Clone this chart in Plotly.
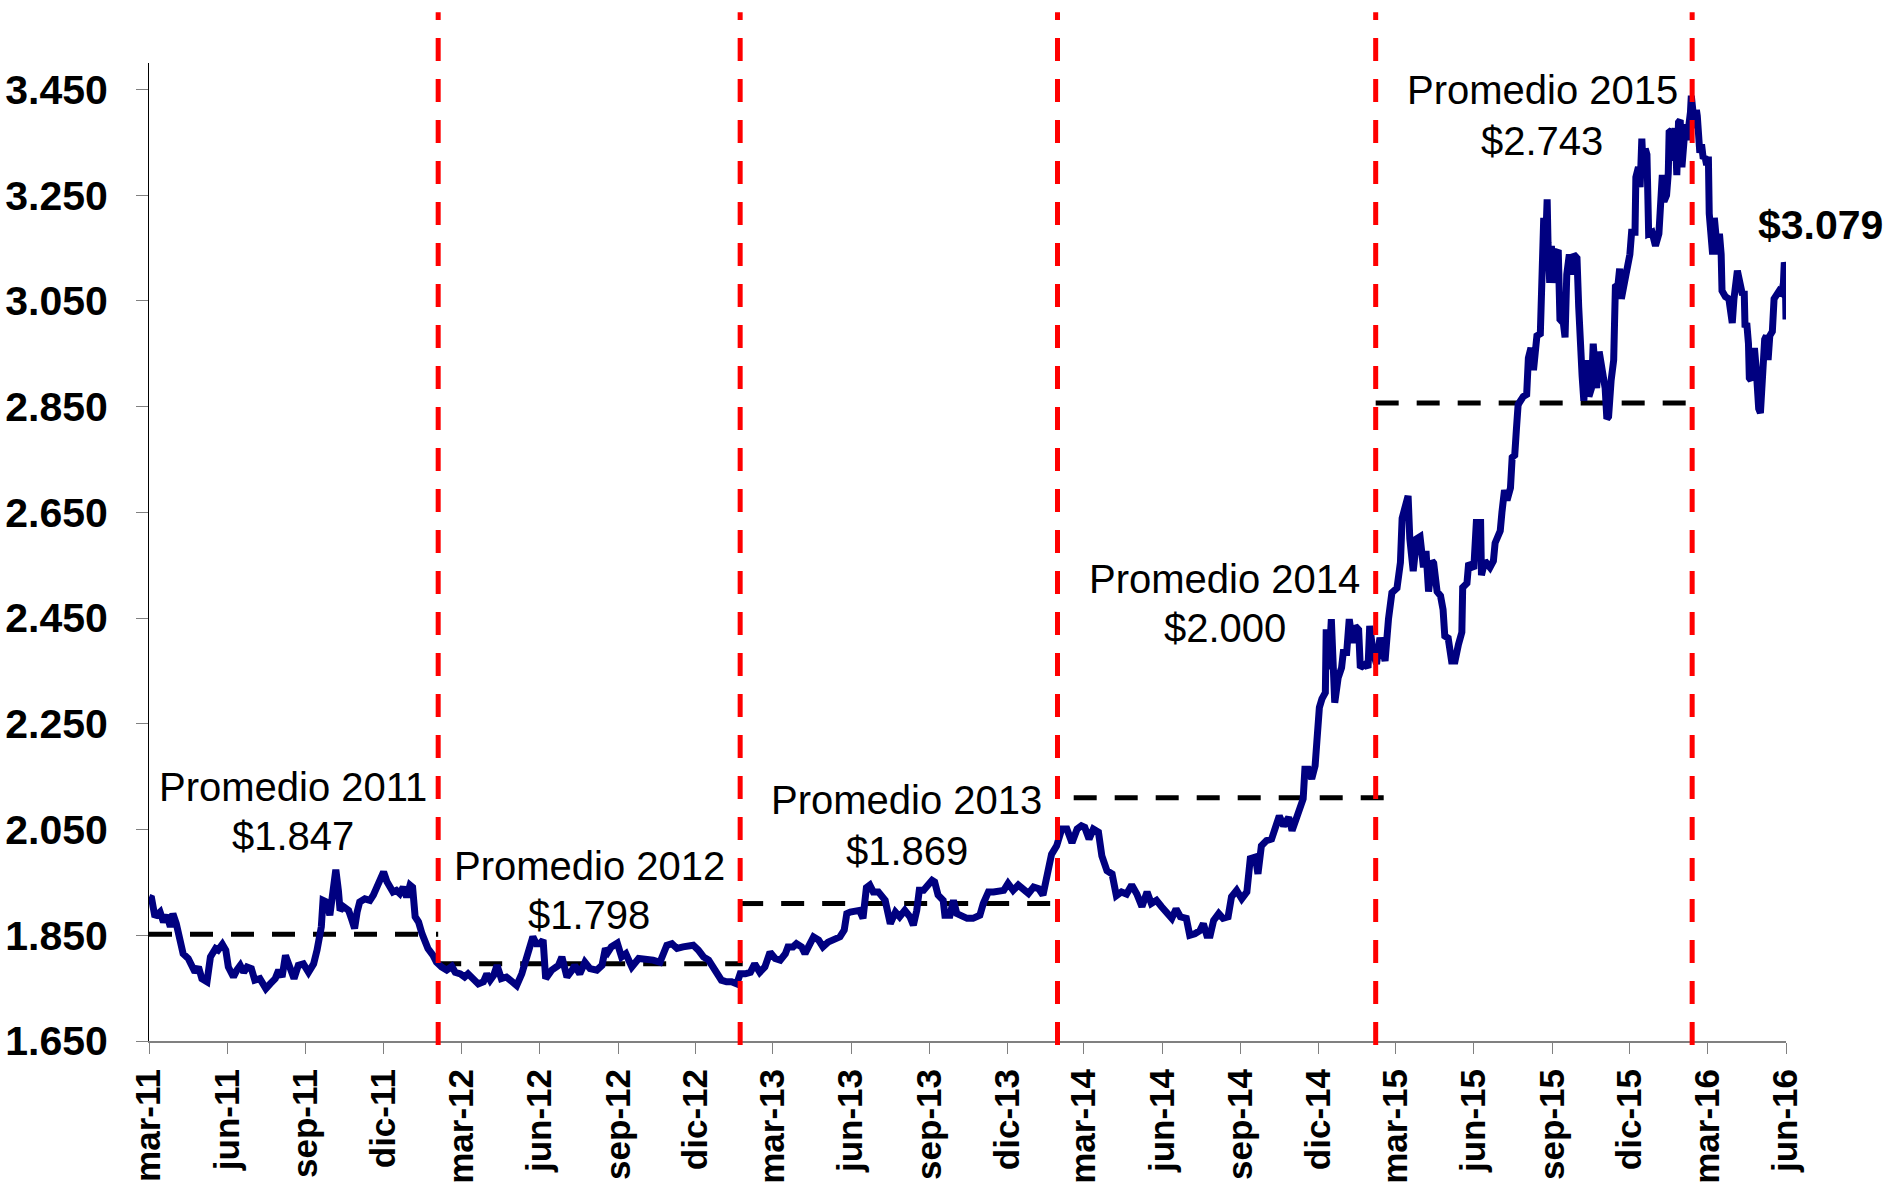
import pandas as pd
import plotly.graph_objects as go

FUENTE = "Liberation Sans, Arial, sans-serif"
AZUL = "#000080"
ROJO = "#FF0000"
GRIS = "#808080"

inicio = "2011-03-01"
fin = "2016-06-01"

# tasa de cambio diaria: dias contados desde el inicio y valor observado
dias = [
    0, 3, 7, 13, 17, 21, 25, 28, 32, 36, 40, 46, 50, 54, 58, 62, 68, 72, 78, 81,
    86, 90, 93, 99, 103, 107, 111, 115, 120, 124, 130, 137, 142, 148, 152, 156, 160, 164, 170, 175,
    181, 187, 193, 197, 202, 204, 208, 212, 215, 219, 222, 224, 228, 234, 238, 241, 244, 247, 253, 259,
    263, 268, 271, 275, 279, 283, 286, 290, 294, 298, 302, 306, 309, 312, 316, 320, 324, 327, 333, 337,
    343, 349, 355, 359, 365, 370, 374, 380, 386, 392, 396, 400, 404, 408, 413, 419, 425, 431, 437, 443,
    450, 454, 458, 462, 465, 472, 480,
    484, 490, 496, 499, 505, 511, 517, 525, 531, 535, 538, 542, 549, 554, 559, 566, 574, 583, 591, 599,
    607, 613, 619, 626, 634, 638, 644, 650, 656, 662, 666, 671, 677, 683, 689, 693, 699, 705, 710, 716,
    722, 728, 734, 740, 746, 749, 755, 759, 765, 769, 773, 779, 785, 790, 796, 804, 810, 815, 818, 822,
    828, 833, 837, 841, 845, 849, 855, 859, 863, 869, 875, 880, 886, 892, 896, 900, 903, 908, 912, 918,
    921, 925, 931, 933, 939, 943, 947, 953, 959, 966, 974, 978, 984, 990, 996, 1002, 1007, 1013, 1019, 1025,
    1031, 1037, 1043, 1048,
    1052, 1058, 1064, 1070, 1076, 1082, 1088, 1093, 1097, 1102, 1107, 1113, 1117, 1123, 1129, 1134, 1140, 1146, 1152, 1158,
    1164, 1170, 1175, 1181, 1187, 1193, 1199, 1204, 1209, 1216, 1220, 1226, 1232, 1236, 1240, 1244, 1248, 1254, 1259, 1265,
    1269, 1275, 1281, 1287, 1291, 1297, 1300, 1304, 1310, 1316, 1320, 1325, 1330, 1336, 1340, 1343, 1349, 1353, 1355, 1359,
    1363, 1367, 1369, 1372, 1375, 1379, 1380, 1383, 1386, 1390, 1394, 1398, 1400, 1404, 1407, 1411, 1414, 1418, 1420, 1426,
    1429, 1431, 1435, 1439, 1443, 1449, 1453, 1457, 1463, 1467,
    1469, 1472, 1476, 1478, 1482, 1486, 1490, 1494, 1497, 1500, 1504, 1506, 1510, 1514, 1517, 1519, 1523, 1527, 1531, 1535,
    1539, 1540, 1545, 1547, 1553, 1556, 1561, 1562, 1566, 1572, 1576, 1578, 1584, 1586, 1589, 1592, 1596, 1598, 1601, 1603,
    1605, 1611, 1615, 1617, 1620, 1623, 1625, 1627, 1631, 1633, 1635, 1637, 1639, 1640, 1642, 1644, 1646, 1648, 1652, 1654,
    1658, 1660, 1662, 1665, 1668, 1670, 1674, 1676, 1678, 1680, 1682, 1685, 1688, 1691, 1693, 1697, 1700, 1704, 1707, 1709,
    1711, 1714, 1717, 1719, 1722, 1724, 1726, 1730, 1732, 1736, 1738, 1742, 1743, 1746, 1748, 1750, 1752, 1754, 1756, 1758,
    1762, 1766, 1770, 1772, 1774, 1776, 1779, 1781, 1782, 1785, 1787, 1789, 1791, 1793, 1795, 1797, 1799, 1801, 1803, 1805,
    1807, 1808, 1810, 1812, 1814, 1815, 1818, 1820, 1822, 1824, 1826, 1828, 1829, 1831, 1833, 1835, 1837, 1839, 1841, 1843,
    1844, 1848, 1852, 1854, 1856, 1858, 1860, 1862, 1864, 1866, 1868, 1870, 1871, 1873, 1875, 1876, 1878, 1880, 1882, 1884,
    1885, 1887, 1889, 1891, 1892, 1894, 1896, 1898, 1900, 1903, 1905, 1908, 1911, 1914, 1916, 1917, 1918, 1919,
]
trm = [
    1922, 1920, 1885, 1894, 1875, 1888, 1866, 1891, 1872, 1834, 1815, 1806, 1790, 1780, 1790, 1768, 1762, 1809, 1825, 1822,
    1833, 1822, 1790, 1771, 1784, 1793, 1780, 1790, 1787, 1765, 1768, 1749, 1758, 1768, 1784, 1771, 1812, 1790, 1768, 1793,
    1796, 1780, 1796, 1822, 1866, 1916, 1913, 1888, 1929, 1974, 1935, 1897, 1904, 1897, 1878, 1863, 1894, 1913, 1919, 1916,
    1926, 1945, 1951, 1970, 1951, 1938, 1932, 1935, 1929, 1941, 1922, 1945, 1941, 1885, 1875, 1853, 1837, 1825, 1812, 1799,
    1790, 1784, 1791, 1780, 1777, 1771, 1777, 1768, 1758, 1762, 1777, 1765, 1774, 1793, 1768, 1771, 1762, 1755, 1777, 1809,
    1847, 1834, 1834, 1841, 1768, 1784, 1793,
    1809, 1771, 1784, 1793, 1777, 1799, 1787, 1784, 1793, 1825, 1818, 1828, 1835, 1809, 1815, 1790, 1806, 1806, 1803, 1799,
    1831, 1834, 1825, 1828, 1828, 1831, 1822, 1809, 1803, 1790, 1777, 1765, 1762, 1762, 1758, 1777, 1777, 1780, 1796, 1780,
    1790, 1818, 1806, 1803, 1815, 1828, 1828, 1834, 1828, 1815, 1828, 1847, 1841, 1828, 1837, 1841, 1847, 1860, 1891, 1894,
    1897, 1897, 1882, 1940, 1945, 1932, 1932, 1926, 1916, 1872, 1894, 1885, 1897, 1885, 1869, 1897, 1935, 1935, 1945, 1954,
    1951, 1926, 1916, 1888, 1888, 1916, 1891, 1888, 1882, 1882, 1888, 1910, 1932, 1932, 1935, 1935, 1948, 1935, 1945, 1938,
    1929, 1941, 1938, 1926,
    1960, 2003, 2019, 2051, 2051, 2025, 2051, 2057, 2054, 2032, 2051, 2045, 2000, 1972, 1966, 1925, 1932, 1928, 1945, 1928,
    1904, 1932, 1910, 1916, 1904, 1891, 1882, 1900, 1885, 1882, 1850, 1853, 1859, 1872, 1850, 1850, 1878, 1891, 1882, 1885,
    1923, 1935, 1919, 1932, 1995, 1998, 1966, 2019, 2029, 2032, 2057, 2076, 2057, 2073, 2048, 2064, 2095, 2108, 2164, 2164,
    2146, 2171, 2215, 2281, 2297, 2309, 2429, 2353, 2448, 2290, 2337, 2356, 2385, 2385, 2448, 2403, 2435, 2428, 2356, 2363,
    2356, 2435, 2385, 2363, 2413, 2369, 2448, 2498, 2507, 2555,
    2639, 2662, 2681, 2600, 2539, 2600, 2604, 2546, 2577, 2500, 2558, 2554, 2500, 2492, 2466, 2416, 2412, 2369, 2369, 2400,
    2423, 2508, 2516, 2554, 2543, 2631, 2631, 2531, 2558, 2546, 2558, 2592, 2615, 2650, 2692, 2673, 2696, 2754, 2758, 2808,
    2854, 2869, 2873, 2942, 2961, 2919, 2969, 2984, 2988, 3107, 3207, 3146, 3242, 3161, 3084, 3154, 3084, 3138, 3146, 3015,
    3008, 2981, 3100, 3138, 3100, 3138, 3131, 3038, 2923, 2908, 2861, 2938, 2869, 2885, 2969, 2885, 2954, 2915, 2885, 2827,
    2831, 2900, 2938, 3077, 3080, 3111, 3054, 3088, 3104, 3138, 3180, 3180, 3284, 3303, 3265, 3357, 3284, 3338, 3327, 3177,
    3180, 3154, 3177, 3238, 3288, 3238, 3250, 3292, 3369, 3373, 3315, 3377, 3288, 3388, 3392, 3303, 3361, 3384, 3354, 3377,
    3407, 3438, 3407, 3377, 3411, 3400, 3330, 3346, 3319, 3323, 3307, 3323, 3215, 3161, 3138, 3207, 3161, 3138, 3177, 3138,
    3069, 3058, 3054, 3015, 3008, 3054, 3077, 3107, 3092, 3069, 3061, 3069, 3000, 3008, 2969, 2904, 2900, 2938, 2961, 2923,
    2861, 2846, 2838, 2931, 2969, 2977, 2984, 2938, 2984, 2992, 3054, 3061, 3069, 3065, 3084, 3123, 3115, 3015,
]

# promedios anuales (texto del grafico y nivel de la linea punteada)
etiquetas_anio = ["Promedio 2011", "Promedio 2012", "Promedio 2013", "Promedio 2014", "Promedio 2015"]
etiquetas_valor = ["$1.847", "$1.798", "$1.869", "$2.000", "$2.743"]
nivel_promedio = [1852, 1796, 1910, 2110, 2857]
promedio_desde = ["2011-03-01", "2012-02-03", "2013-01-22", "2014-02-17", "2015-02-06"]
promedio_hasta = ["2012-02-03", "2013-01-25", "2014-01-29", "2015-02-23", "2016-02-09"]

# cortes entre anios (lineas rojas)
cortes = ["2012-02-03", "2013-01-22", "2014-01-29", "2015-02-06", "2016-02-12"]

ultimo_valor = "$3.079"

MESES = {3: "mar", 6: "jun", 9: "sep", 12: "dic"}

# ubicacion de los textos (fraccion del area del grafico): x, y primera linea, y segunda linea
pos_etiquetas = [(0.088, 0.260, 0.210),
                 (0.269, 0.179, 0.129),
                 (0.463, 0.246, 0.194),
                 (0.657, 0.472, 0.422),
                 (0.851, 0.972, 0.920)]

fechas = pd.Timestamp(inicio) + pd.to_timedelta(dias, unit="D")
tick_fechas = pd.date_range(inicio, fin, freq="3MS")
tick_textos = [MESES[f.month] + "-" + f.strftime("%y") for f in tick_fechas]

fig = go.Figure()

for desde, hasta, nivel in zip(promedio_desde, promedio_hasta, nivel_promedio):
    fig.add_trace(go.Scatter(x=[desde, hasta], y=[nivel, nivel], mode="lines",
                             line=dict(color="black", width=5, dash="23px,18px"),
                             hoverinfo="skip", showlegend=False))

fig.add_trace(go.Scatter(x=fechas, y=trm, mode="lines",
                         line=dict(color=AZUL, width=7),
                         showlegend=False))

for c in cortes:
    fig.add_shape(type="line", xref="x", yref="paper", x0=c, x1=c, y0=-0.004, y1=1.052,
                  line=dict(color=ROJO, width=5, dash="23px,18px"), layer="above")

for (px, py1, py2), anio, valor in zip(pos_etiquetas, etiquetas_anio, etiquetas_valor):
    fig.add_annotation(x=px, y=py1, xref="paper", yref="paper", text=anio, showarrow=False,
                       xanchor="center", yanchor="middle",
                       font=dict(family=FUENTE, size=40, color="black"))
    fig.add_annotation(x=px, y=py2, xref="paper", yref="paper", text=valor, showarrow=False,
                       xanchor="center", yanchor="middle",
                       font=dict(family=FUENTE, size=40, color="black"))

fig.add_annotation(x=1.021, y=0.8345, xref="paper", yref="paper", text="<b>" + ultimo_valor + "</b>",
                   showarrow=False, xanchor="center", yanchor="middle",
                   font=dict(family=FUENTE, size=41, color="black"))

fig.update_xaxes(type="date", range=[inicio, fin], tickvals=tick_fechas, ticktext=tick_textos,
                 tickangle=-90, ticks="outside", ticklen=11, tickcolor=GRIS, tickwidth=1,
                 showline=True, linecolor=GRIS, linewidth=2, showgrid=False, zeroline=False,
                 automargin=False, ticklabelstandoff=1,
                 tickfont=dict(family=FUENTE, size=35, color="black", weight="bold"))

fig.update_yaxes(range=[1650, 3500], tickvals=list(range(1650, 3451, 200)), tickformat=",d",
                 ticks="outside", ticklen=12, tickcolor=GRIS, tickwidth=1,
                 showline=True, linecolor="black", linewidth=1, showgrid=False, zeroline=False,
                 automargin=False, ticklabelstandoff=20,
                 tickfont=dict(family=FUENTE, size=41, color="black", weight="bold"))

fig.update_layout(
    width=1893,
    height=1189,
    separators=",.",
    plot_bgcolor="white",
    paper_bgcolor="white",
    margin=dict(l=149, r=107, t=63, b=148, pad=0),
    showlegend=False,
)

fig.write_html("out.html", config={"displayModeBar": False},
               post_script="document.body.style.margin='0';")
